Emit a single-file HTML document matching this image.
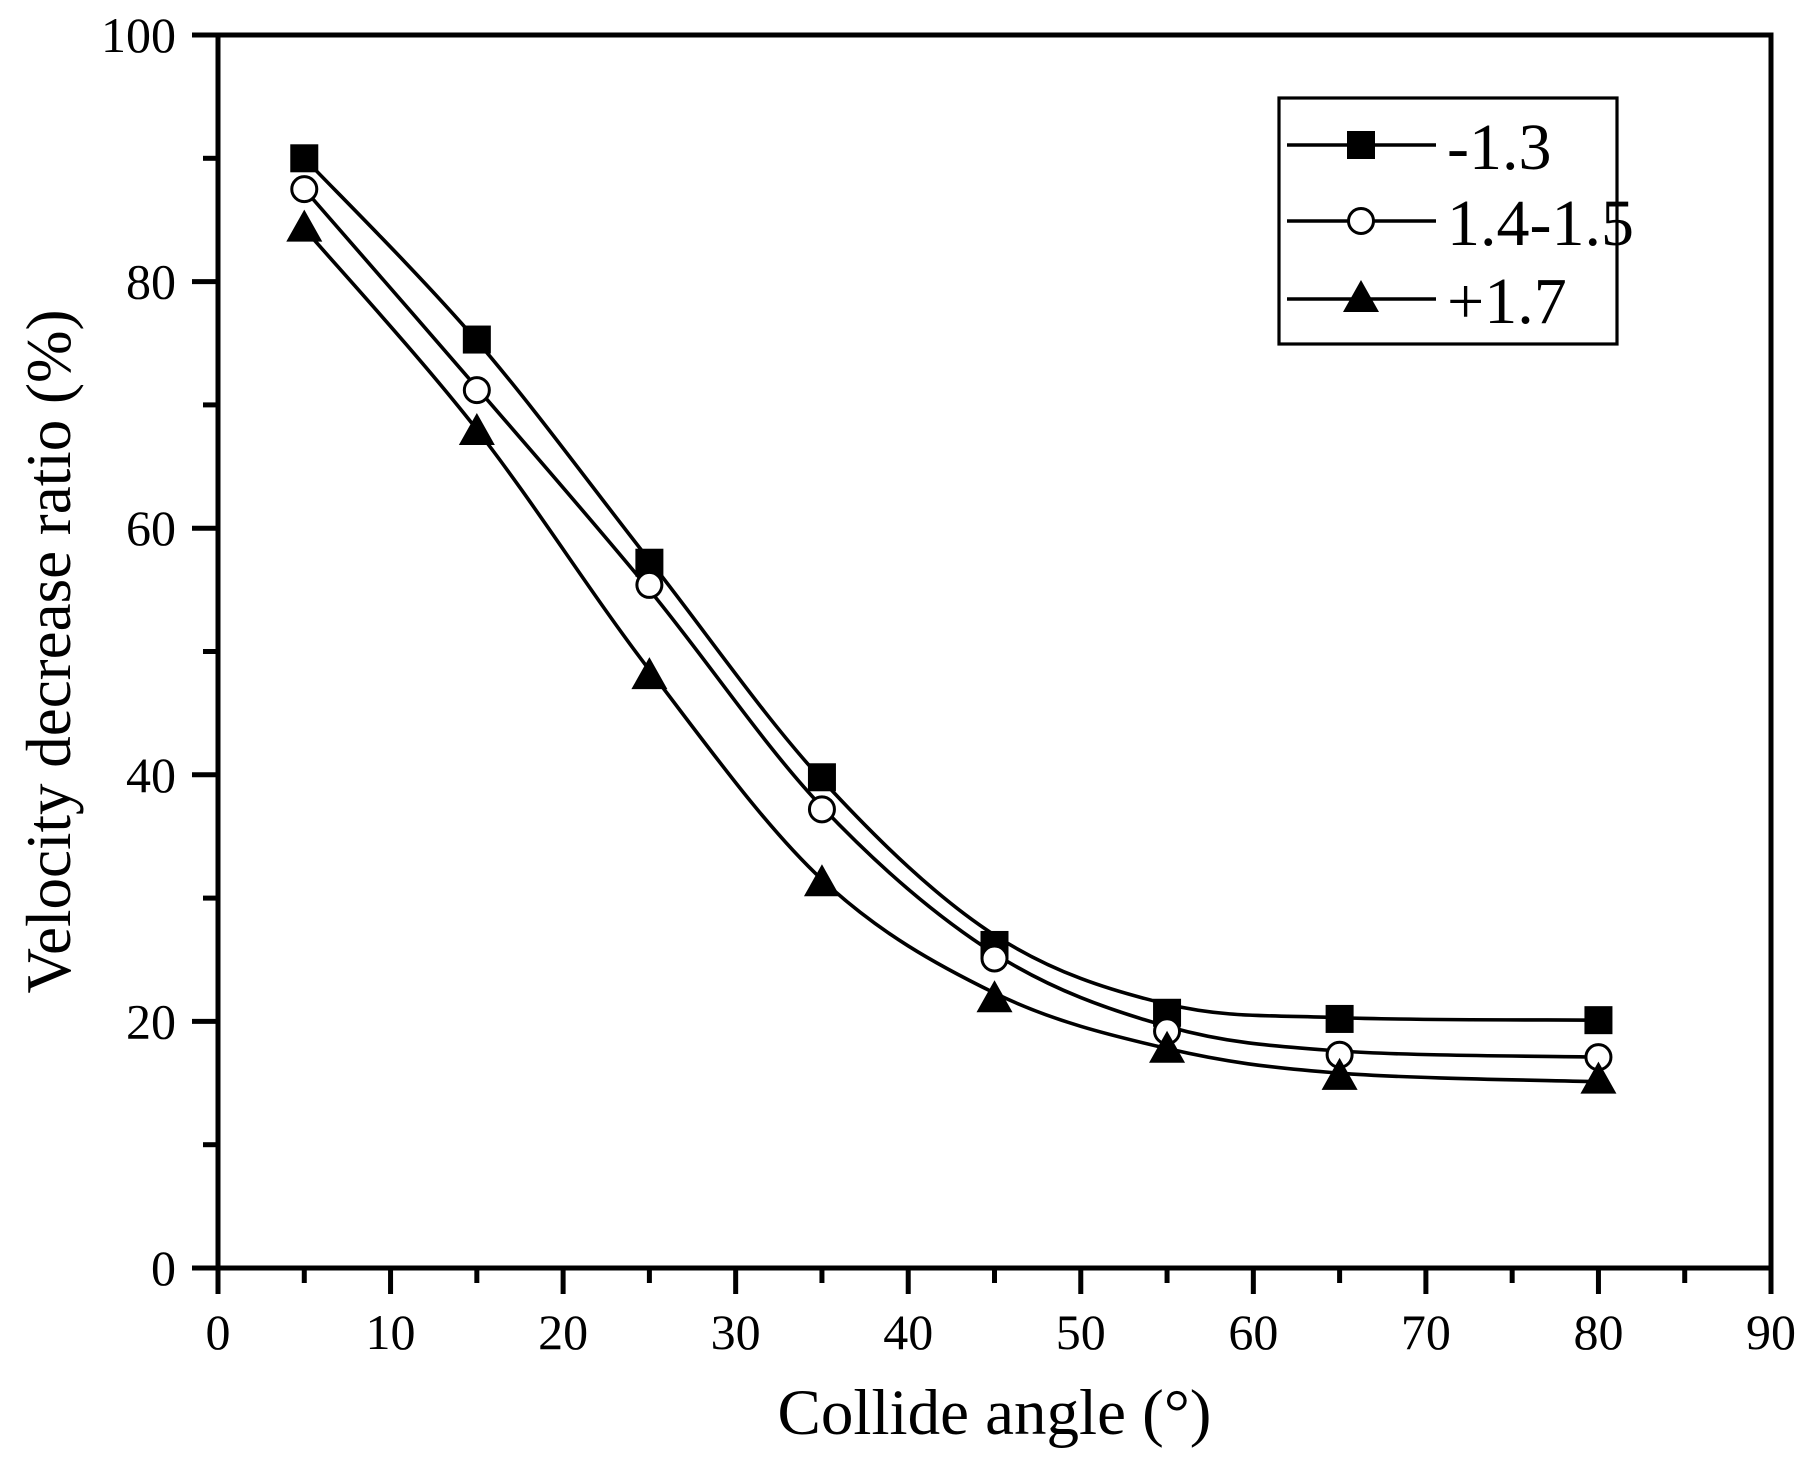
<!DOCTYPE html>
<html><head><meta charset="utf-8"><style>
html,body{margin:0;padding:0;background:#fff;}
svg{display:block;}
text{font-family:"Liberation Serif",serif;fill:#000;}
</style></head><body>
<svg id="s" width="1815" height="1469" viewBox="0 0 1815 1469" xmlns="http://www.w3.org/2000/svg">
<g id="g"></g>
</svg>
<script>
const NS="http://www.w3.org/2000/svg";
const g=document.getElementById('g');
function el(t,a,txt){const e=document.createElementNS(NS,t);for(const k in a)e.setAttribute(k,a[k]);if(txt!==undefined)e.textContent=txt;g.appendChild(e);return e;}
const X0=218,X1=1771,Y0=1268,Y1=35;
const sx=x=>X0+(X1-X0)*x/90, sy=y=>Y0-(Y0-Y1)*y/100;
el('rect',{x:X0,y:Y1,width:X1-X0,height:Y0-Y1,fill:'none',stroke:'#000','stroke-width':5});
for(let v=0;v<=90;v+=5){const x=sx(v);const major=v%10==0;el('line',{x1:x,y1:Y0,x2:x,y2:Y0+(major?26:15),stroke:'#000','stroke-width':5});
 if(major)el('text',{x:x,y:1349,'font-size':50,'text-anchor':'middle'},String(v));}
for(let v=0;v<=100;v+=10){const y=sy(v);const major=v%20==0;el('line',{x1:X0,y1:y,x2:X0-(major?26:15),y2:y,stroke:'#000','stroke-width':5});
 if(major)el('text',{x:176,y:y+17,'font-size':50,'text-anchor':'end'},String(v));}
el('text',{x:(X0+X1)/2,y:1434,'font-size':65,'text-anchor':'middle'},'Collide angle (°)');
el('text',{x:0,y:0,'font-size':63,'text-anchor':'middle',transform:'translate(70,'+((Y0+Y1)/2)+') rotate(-90)'},'Velocity decrease ratio (%)');
const xs=[5,15,25,35,45,55,65,80];
const data=[
 [90,75.3,57.2,39.8,26.2,20.7,20.2,20.1],
 [87.5,71.2,55.4,37.2,25.1,19.2,17.3,17.1],
 [84.3,67.8,48.0,31.2,21.8,17.7,15.5,15.2]];
const fits=[
 [90,75.2,57.4,39.6,27.0,21.4,20.3,20.1],
 [87.5,71.4,55.0,37.4,25.5,19.6,17.6,17.1],
 [84.3,68.0,48.5,31.5,22.3,17.8,15.8,15.1]];
function path(pts){let d='M'+pts[0][0]+','+pts[0][1];
 for(let i=0;i<pts.length-1;i++){const p0=pts[Math.max(0,i-1)],p1=pts[i],p2=pts[i+1],p3=pts[Math.min(pts.length-1,i+2)];
 const c1=[p1[0]+(p2[0]-p0[0])/6,p1[1]+(p2[1]-p0[1])/6],c2=[p2[0]-(p3[0]-p1[0])/6,p2[1]-(p3[1]-p1[1])/6];
 d+=' C'+c1+' '+c2+' '+p2;}return d;}
function marker(k,x,y){
 if(k==0)el('rect',{x:x-14,y:y-14,width:28,height:28,fill:'#000'});
 else if(k==1)el('circle',{cx:x,cy:y,r:12.5,fill:'#fff',stroke:'#000','stroke-width':3});
 else el('polygon',{points:`${x},${y-19} ${x+18},${y+13} ${x-18},${y+13}`,fill:'#000'});}
for(let k=0;k<3;k++){
 el('path',{d:path(xs.map((x,i)=>[sx(x),sy(fits[k][i])])),fill:'none',stroke:'#000','stroke-width':3.6});
 xs.forEach((x,i)=>marker(k,sx(x),sy(data[k][i])));}
el('rect',{x:1279,y:98,width:338,height:246,fill:'#fff',stroke:'#000','stroke-width':3.2});
const labs=['-1.3','1.4-1.5','+1.7'],ly=[145,221,299];
for(let k=0;k<3;k++){el('line',{x1:1287,y1:ly[k],x2:1436,y2:ly[k],stroke:'#000','stroke-width':3.4});
 marker(k,1361,ly[k]);
 el('text',{x:1447,y:ly[k]+24,'font-size':66},labs[k]);}
</script>
</body></html>
